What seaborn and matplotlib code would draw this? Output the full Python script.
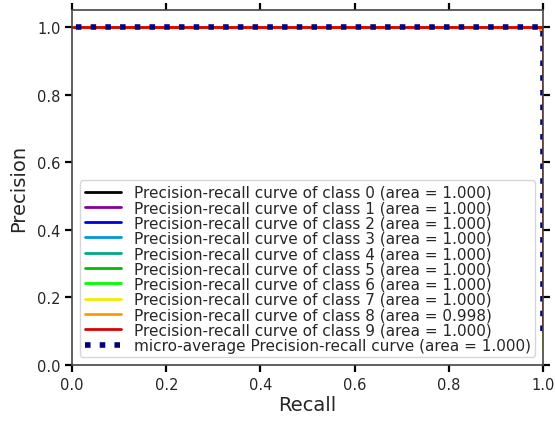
import matplotlib
matplotlib.use("Agg")
import matplotlib.pyplot as plt
import seaborn as sns
import numpy as np
import pandas as pd

# ---- data ----
class_names = ["0", "1", "2", "3", "4", "5", "6", "7", "8", "9"]
class_areas = [1.000, 1.000, 1.000, 1.000, 1.000, 1.000, 1.000, 1.000, 0.998, 1.000]
# recall / precision points of each class curve (drawn from recall=1 up then left)
class_recall = [
    [1.0, 1.0, 0.0],
    [1.0, 1.0, 0.0],
    [1.0, 1.0, 0.0],
    [1.0, 1.0, 0.0],
    [1.0, 1.0, 0.0],
    [1.0, 1.0, 0.0],
    [1.0, 1.0, 0.0],
    [1.0, 1.0, 0.0],
    [1.0, 1.0, 0.995, 0.995, 0.0],
    [1.0, 1.0, 0.0],
]
class_precision = [
    [0.10, 1.0, 1.0],
    [0.10, 1.0, 1.0],
    [0.10, 1.0, 1.0],
    [0.10, 1.0, 1.0],
    [0.10, 1.0, 1.0],
    [0.10, 1.0, 1.0],
    [0.10, 1.0, 1.0],
    [0.05, 1.0, 1.0],
    [0.10, 0.99, 0.99, 1.0, 1.0],
    [0.10, 1.0, 1.0],
]
micro_recall = [1.0, 1.0, 0.0]
micro_precision = [0.10, 1.0, 1.0]
micro_area = 1.000

x_ticks = [0.0, 0.2, 0.4, 0.6, 0.8, 1.0]
y_ticks = [0.0, 0.2, 0.4, 0.6, 0.8, 1.0]

# ---- plot ----
sns.set_style("ticks")
plt.rcParams["font.family"] = ["DejaVu Sans"]

fig = plt.figure(figsize=(5.55, 4.39), dpi=100)
ax = fig.add_axes([0.13, 0.166, 0.848, 0.809])

cmap = plt.get_cmap("nipy_spectral")
n = len(class_names)
for i, name in enumerate(class_names):
    df = pd.DataFrame({"recall": class_recall[i], "precision": class_precision[i]})
    sns.lineplot(data=df, x="recall", y="precision", sort=False, estimator=None,
                 color=cmap(float(i) / n), lw=2, ax=ax,
                 label="Precision-recall curve of class {0} (area = {1:0.3f})".format(name, class_areas[i]))

dfm = pd.DataFrame({"recall": micro_recall, "precision": micro_precision})
sns.lineplot(data=dfm, x="recall", y="precision", sort=False, estimator=None,
             color="navy", lw=4, linestyle=":", ax=ax,
             label="micro-average Precision-recall curve (area = {0:0.3f})".format(micro_area))

ax.set_xlim(0.0, 1.0)
ax.set_ylim(0.0, 1.05)
ax.set_xticks(x_ticks)
ax.set_yticks(y_ticks)
ax.set_xticklabels(["{:.1f}".format(v) for v in x_ticks])
ax.set_yticklabels(["{:.1f}".format(v) for v in y_ticks])
ax.set_xlabel("Recall", fontsize=14, labelpad=2)
ax.set_ylabel("Precision", fontsize=14, labelpad=6)
ax.tick_params(axis="both", labelsize=10.5, width=1.6, length=5, color="black",
               top=True, right=True, direction="out")
for s in ax.spines.values():
    s.set_color("#444444")
    s.set_linewidth(1.2)

leg = ax.legend(loc="lower right", fontsize=11, labelspacing=0.02,
                handlelength=2.4, handletextpad=0.8, borderpad=0.3,
                borderaxespad=0.5, framealpha=0.8)

fig.savefig("out.png", dpi=100)
